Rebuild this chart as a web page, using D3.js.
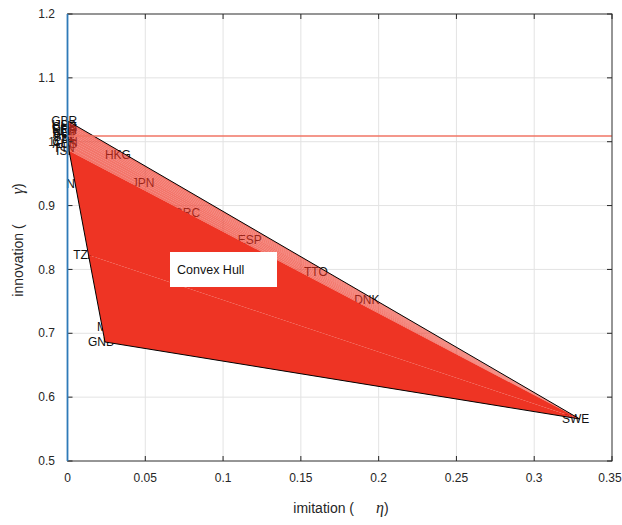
<!DOCTYPE html>
<html>
<head>
<meta charset="utf-8">
<script src="https://cdn.jsdelivr.net/npm/d3@7"></script>
<style>
  html, body { margin: 0; padding: 0; background: #fff; }
  svg { display: block; font-family: "Liberation Sans", Arial, Helvetica, sans-serif; }
</style>
</head>
<body>
<svg id="chart" width="622" height="525"></svg>
<script>
// ---------------- data ----------------
const xTickValues = [0, 0.05, 0.1, 0.15, 0.2, 0.25, 0.3, 0.35];
const xTickLabels = ["0", "0.05", "0.1", "0.15", "0.2", "0.25", "0.3", "0.35"];
const yTickValues = [0.5, 0.6, 0.7, 0.8, 0.9, 1.0, 1.1, 1.2];
const yTickLabels = ["0.5", "0.6", "0.7", "0.8", "0.9", "1", "1.1", "1.2"];

// tightly clustered countries near zero imitation
const clusterCodes = ["GBR", "USA", "CHE", "DEU", "FRA", "NLD", "AUT", "BEL", "ITA", "CAN", "AUS", "FIN", "ISL"];
const clusterEta   = [0.0005, 0.0006, 0.0006, 0.0007, 0.0007, 0.0007, 0.0008, 0.0008, 0.0008, 0.0009, 0.0009, 0.0009, 0.0010];
const clusterGamma = [1.032, 1.027, 1.024, 1.021, 1.018, 1.015, 1.012, 1.008, 1.004, 1.000, 0.996, 0.991, 0.986];

// other countries
const otherCodes = ["HKG", "JPN", "GRC", "ESP", "TTO", "DNK", "NER", "TZA", "MLI", "GNB", "SWE"];
const otherEta   = [0.035, 0.0511, 0.0793, 0.1198, 0.1622, 0.195, 0.00995, 0.0135, 0.028, 0.0241, 0.3292];
const otherGamma = [0.9792, 0.9353, 0.8884, 0.8461, 0.7960, 0.752, 0.9338, 0.8226, 0.7098, 0.6864, 0.5658];

const refGamma = 1.009;   // horizontal reference line
const refEta = 0;         // vertical reference line
const legendLabel = "Convex Hull";

// ---------------- layout ----------------
const W = 622;
const svg = d3.select("#chart");
const x = d3.scaleLinear().domain([0, 0.35]).range([67.5, 612]);
const y = d3.scaleLinear().domain([0.5, 1.2]).range([461, 14]);
const red = "#ee3424";

const cluster = clusterCodes.map((c, i) => ({code: c, eta: clusterEta[i], gamma: clusterGamma[i]}));
const others = otherCodes.map((c, i) => ({code: c, eta: otherEta[i], gamma: otherGamma[i]}));
const all = cluster.concat(others);
const byCode = Object.fromEntries(all.map(d => [d.code, d]));
const P = d => [x(d.eta), y(d.gamma)];
const poly = pts => "M" + pts.map(p => p.join(",")).join("L") + "Z";

// grid
const g = svg.append("g");
g.selectAll(".gx").data(xTickValues).join("line")
  .attr("x1", d => x(d)).attr("x2", d => x(d))
  .attr("y1", y(1.2)).attr("y2", y(0.5))
  .attr("stroke", "#e3e3e3").attr("stroke-width", 1);
g.selectAll(".gy").data(yTickValues).join("line")
  .attr("x1", x(0)).attr("x2", x(0.35))
  .attr("y1", d => y(d)).attr("y2", d => y(d))
  .attr("stroke", "#e3e3e3").attr("stroke-width", 1);

// country labels (under the hull)
svg.append("g").selectAll("text").data(all).join("text")
  .attr("x", d => x(d.eta)).attr("y", d => y(d.gamma))
  .attr("dx", -4).attr("dy", "0.35em")
  .attr("text-anchor", "middle")
  .attr("font-size", 12).attr("fill", "#111")
  .text(d => d.code);

// hull fill
const tza = byCode["TZA"], swe = byCode["SWE"], gnb = byCode["GNB"];
const sortedCluster = cluster.slice().sort((a, b) => b.gamma - a.gamma);
const bottom = sortedCluster[sortedCluster.length - 1];
const fans = d3.pairs(sortedCluster);
const fills = svg.append("g");
// translucent fan between neighbouring cluster countries and SWE
fills.selectAll("path.fan").data(fans).join("path")
  .attr("d", d => poly([P(d[0]), P(d[1]), P(swe)]))
  .attr("fill", red).attr("fill-opacity", 0.68);
// solid body
fills.append("path").attr("d", poly([P(bottom), P(tza), P(swe)])).attr("fill", red);
fills.append("path").attr("d", poly([P(tza), P(gnb), P(swe)])).attr("fill", red);

// hull outline
const hull = d3.polygonHull(all.map(P));
svg.append("path")
  .attr("d", poly(hull))
  .attr("fill", "none").attr("stroke", "#000").attr("stroke-width", 1);

// horizontal reference line
svg.append("line")
  .attr("x1", x(0)).attr("x2", x(0.35))
  .attr("y1", y(refGamma)).attr("y2", y(refGamma))
  .attr("stroke", "#f07464").attr("stroke-width", 1.5);

// axes box
const ax = svg.append("g");
ax.append("rect").attr("x", x(0)).attr("y", y(1.2))
  .attr("width", x(0.35) - x(0)).attr("height", y(0.5) - y(1.2))
  .attr("fill", "none").attr("stroke", "#3a3a3a").attr("stroke-width", 1);
ax.selectAll(".tb").data(xTickValues).join("line")
  .attr("x1", d => x(d)).attr("x2", d => x(d)).attr("y1", y(0.5)).attr("y2", y(0.5) - 5)
  .attr("stroke", "#262626");
ax.selectAll(".tt").data(xTickValues).join("line")
  .attr("x1", d => x(d)).attr("x2", d => x(d)).attr("y1", y(1.2)).attr("y2", y(1.2) + 5)
  .attr("stroke", "#262626");
ax.selectAll(".tl").data(yTickValues).join("line")
  .attr("y1", d => y(d)).attr("y2", d => y(d)).attr("x1", x(0)).attr("x2", x(0) + 5)
  .attr("stroke", "#262626");
ax.selectAll(".tr").data(yTickValues).join("line")
  .attr("y1", d => y(d)).attr("y2", d => y(d)).attr("x1", x(0.35)).attr("x2", x(0.35) - 5)
  .attr("stroke", "#262626");

// vertical reference line at eta = 0
svg.append("line")
  .attr("x1", x(refEta)).attr("x2", x(refEta))
  .attr("y1", y(1.2)).attr("y2", y(0.5))
  .attr("stroke", "#2f7ab8").attr("stroke-width", 1.8);

// tick labels
svg.append("g").selectAll("text").data(xTickValues).join("text")
  .attr("x", d => Math.min(x(d), W - 12)).attr("y", 482)
  .attr("text-anchor", "middle").attr("font-size", 12).attr("fill", "#262626")
  .text((d, i) => xTickLabels[i]);
svg.append("g").selectAll("text").data(yTickValues).join("text")
  .attr("x", 55).attr("y", d => y(d)).attr("dy", "0.35em")
  .attr("text-anchor", "end").attr("font-size", 12).attr("fill", "#262626")
  .text((d, i) => yTickLabels[i]);

// axis titles
const serif = "'Liberation Serif', 'DejaVu Serif', serif";
const xt = svg.append("text").attr("x", 341).attr("y", 513)
  .attr("text-anchor", "middle").attr("font-size", 14).attr("fill", "#262626");
xt.append("tspan").text("imitation (");
xt.append("tspan").attr("dx", 22).attr("font-family", serif)
  .attr("font-style", "italic").attr("font-size", 16).text("η");
xt.append("tspan").text(")");

const yt = svg.append("text").attr("transform", "translate(23,240) rotate(-90)")
  .attr("text-anchor", "middle").attr("font-size", 14).attr("fill", "#262626");
yt.append("tspan").text("innovation (");
yt.append("tspan").attr("dx", 30).attr("font-family", serif)
  .attr("font-style", "italic").attr("font-size", 16).text("γ");
yt.append("tspan").text(")");

// legend
const lg = svg.append("g");
lg.append("rect").attr("x", 170.5).attr("y", 252.5).attr("width", 106).attr("height", 34)
  .attr("fill", "#fff").attr("stroke", "#fff");
lg.append("text").attr("x", 177).attr("y", 269.5).attr("dy", "0.35em")
  .attr("font-size", 12.5).attr("fill", "#111").text(legendLabel);
</script>
</body>
</html>
